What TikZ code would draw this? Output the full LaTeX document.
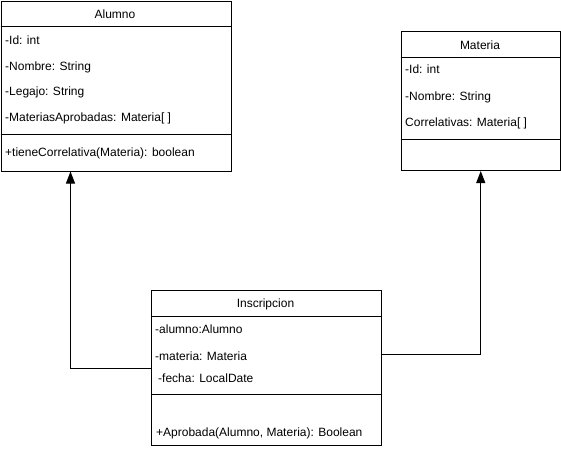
\documentclass[tikz,border=0pt]{standalone}
\usepackage{fontspec}
\setmainfont{Liberation Sans}
\usetikzlibrary{arrows.meta}
\begin{document}
\begin{tikzpicture}[x=1pt,y=-1pt,
  box/.style={draw,line width=1pt,rectangle,anchor=north west,inner sep=0pt},
  lbl/.style={anchor=base west,inner sep=0pt,font=\fontsize{12}{14}\selectfont},
  ttl/.style={anchor=base,inner sep=0pt,font=\fontsize{12}{14}\selectfont},
  sep/.style={line width=1pt},
  inh/.style={line width=1pt,-{Triangle[length=12pt,width=9pt]}}]
\useasboundingbox (0,0) rectangle (561,450);
% Alumno
\node[box,minimum width=230pt,minimum height=170pt] (alumno) at (0.5,0.5) {};
\node[ttl] (alumnoT) at (115,18.5) {Alumno};
\draw[sep] (alumno.west |- 0,26) -- (alumno.east |- 0,26);
\node[lbl] (a1) at (5,44.5) {-Id: int};
\node[lbl] (a2) at (5,70) {-Nombre: String};
\node[lbl] (a3) at (5,95.5) {-Legajo: String};
\node[lbl] (a4) at (5,121.5) {-MateriasAprobadas: Materia[ ]};
\draw[sep] (alumno.west |- 0,134) -- (alumno.east |- 0,134);
\node[lbl] (a5) at (5,156) {+tieneCorrelativa(Materia): boolean};
% Materia
\node[box,minimum width=159.5pt,minimum height=139pt] (materia) at (400.5,31) {};
\node[ttl] (materiaT) at (480,49) {Materia};
\draw[sep] (materia.west |- 0,57) -- (materia.east |- 0,57);
\node[lbl] (m1) at (405,73.5) {-Id: int};
\node[lbl] (m2) at (405,100) {-Nombre: String};
\node[lbl] (m3) at (405,126) {Correlativas: Materia[ ]};
\draw[sep] (materia.west |- 0,139) -- (materia.east |- 0,139);
% Inscripcion
\node[box,minimum width=230pt,minimum height=155pt] (insc) at (150.5,290) {};
\node[ttl] (inscT) at (265.5,307.5) {Inscripcion};
\draw[sep] (insc.west |- 0,316) -- (insc.east |- 0,316);
\node[lbl] (i1) at (155,333) {-alumno:Alumno};
\node[lbl] (i2) at (155,360) {-materia: Materia};
\node[lbl] (i3) at (158,382) {-fecha: LocalDate};
\draw[sep] (insc.west |- 0,394) -- (insc.east |- 0,394);
\node[lbl] (i4) at (156,436) {+Aprobada(Alumno, Materia): Boolean};
% connectors
\draw[inh] (insc.west) -| ([xshift=70pt]alumno.south west);
\draw[inh] ([yshift=13.5pt]insc.east) -| (materia.south);
\end{tikzpicture}
\end{document}
